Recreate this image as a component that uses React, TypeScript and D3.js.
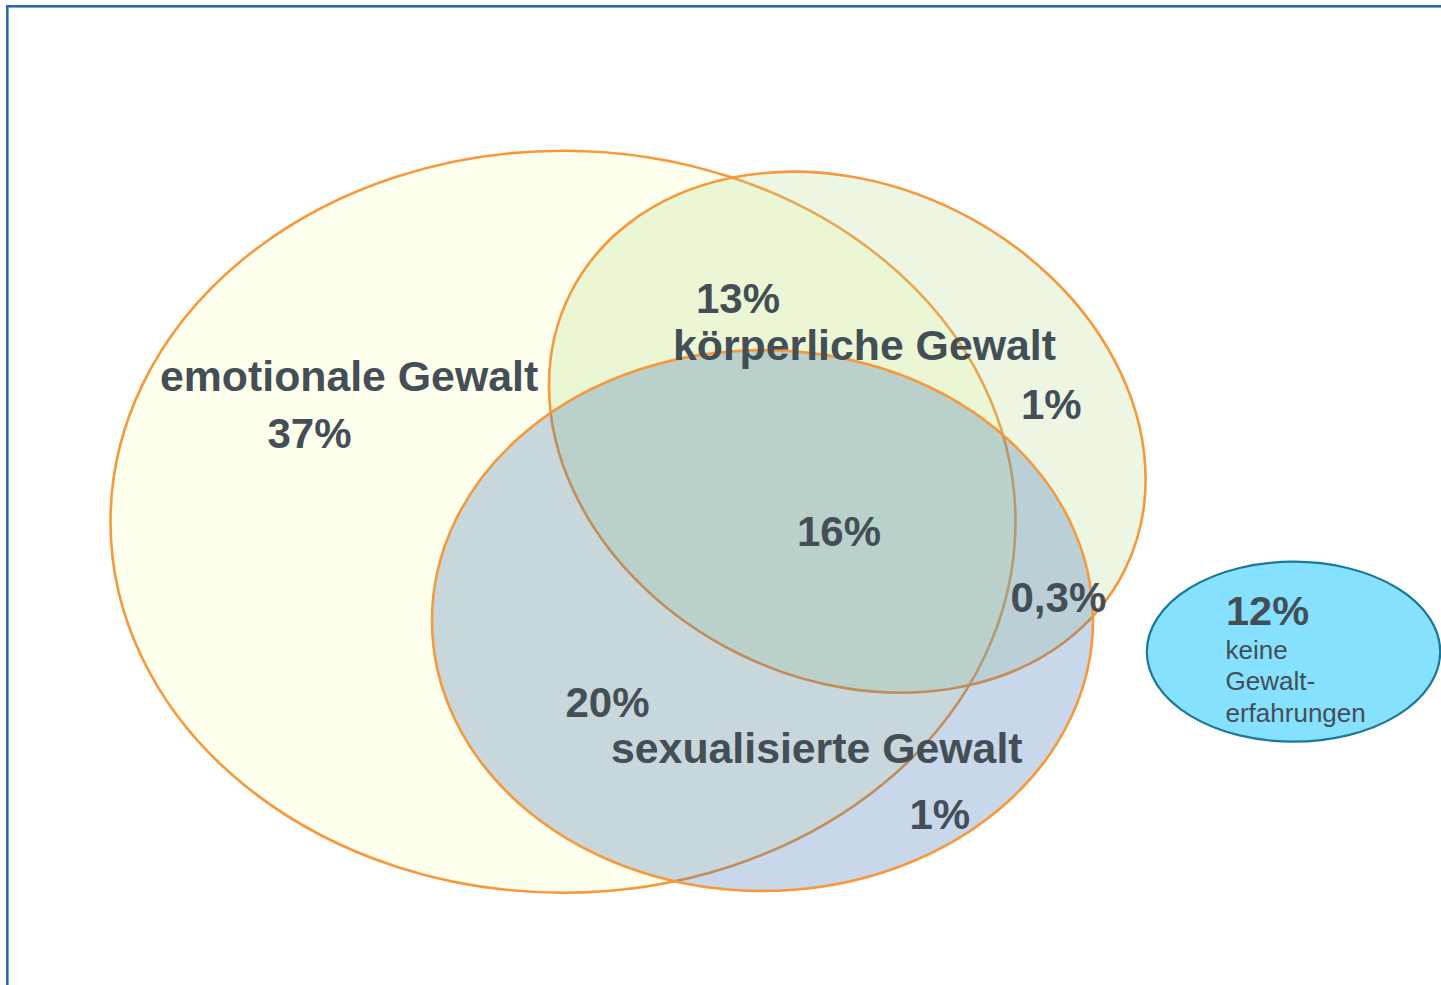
import React, { useEffect, useRef } from "react";
import * as d3 from "d3";

// ---- data ----
const setNames = ["emotionale Gewalt", "körperliche Gewalt", "sexualisierte Gewalt"];
const regionKeys = ["E", "EK", "K", "EKS", "KS", "ES", "S"];
const regionValues = ["37%", "13%", "1%", "16%", "0,3%", "20%", "1%"];
const noneValue = "12%";
const noneLines = ["keine", "Gewalt-", "erfahrungen"];

// ---- layout ----
const W = 1441;
const H = 985;
const ellipses = [
  { cx: 563, cy: 521.7, rx: 452.5, ry: 371, rot: 0, fill: "rgb(254,255,236)", op: 1 },
  { cx: 847.3, cy: 432.2, rx: 309.8, ry: 246.7, rot: 26.5, fill: "rgb(182,220,147)", op: 0.26 },
  { cx: 762.5, cy: 620.5, rx: 330.5, ry: 270.4, rot: 0, fill: "rgb(58,112,180)", op: 0.28 },
];
const setLabelPos = [
  { x: 160, y: 391 },
  { x: 673, y: 360 },
  { x: 611, y: 763 },
];
const regionPos: Record<string, { x: number; y: number }> = {
  E: { x: 267.5, y: 448 },
  EK: { x: 696, y: 313 },
  K: { x: 1021, y: 419 },
  EKS: { x: 797, y: 546 },
  KS: { x: 1010.5, y: 611.5 },
  ES: { x: 565.5, y: 717 },
  S: { x: 909.5, y: 829 },
};

const TEXT = "#444e57";
const ORANGE = "#f7983a";

export default function App() {
  const ref = useRef<SVGSVGElement | null>(null);

  useEffect(() => {
    const svg = d3.select(ref.current);
    svg.selectAll("*").remove();

    svg
      .append("rect")
      .attr("x", 0)
      .attr("y", 0)
      .attr("width", W)
      .attr("height", H)
      .attr("fill", "#ffffff");

    // frame
    svg
      .append("rect")
      .attr("x", 7.3)
      .attr("y", 6.3)
      .attr("width", 1600)
      .attr("height", 1200)
      .attr("fill", "none")
      .attr("stroke", "#2a68b1")
      .attr("stroke-width", 2.6);

    const g = svg.append("g");
    g.selectAll("ellipse.set")
      .data(ellipses)
      .join("ellipse")
      .attr("class", "set")
      .attr("cx", (d) => d.cx)
      .attr("cy", (d) => d.cy)
      .attr("rx", (d) => d.rx)
      .attr("ry", (d) => d.ry)
      .attr("transform", (d) => `rotate(${d.rot},${d.cx},${d.cy})`)
      .attr("fill", (d) => d.fill)
      .attr("fill-opacity", (d) => d.op)
      .attr("stroke", ORANGE)
      .attr("stroke-width", 2.6);

    // "none" ellipse
    svg
      .append("ellipse")
      .attr("cx", 1293.5)
      .attr("cy", 651.7)
      .attr("rx", 146.7)
      .attr("ry", 90)
      .attr("fill", "#86e1fe")
      .attr("stroke", "#1a7898")
      .attr("stroke-width", 2.2);

    const font = "'Liberation Sans', Arial, sans-serif";
    const t = svg.append("g").attr("font-family", font).attr("fill", TEXT);

    t.selectAll("text.set")
      .data(setNames)
      .join("text")
      .attr("class", "set")
      .attr("x", (_d, i) => setLabelPos[i].x)
      .attr("y", (_d, i) => setLabelPos[i].y)
      .attr("font-size", 42.8)
      .attr("font-weight", "bold")
      .text((d) => d);

    t.selectAll("text.val")
      .data(regionKeys)
      .join("text")
      .attr("class", "val")
      .attr("x", (k) => regionPos[k].x)
      .attr("y", (k) => regionPos[k].y)
      .attr("font-size", 42)
      .attr("font-weight", "bold")
      .text((_k, i) => regionValues[i]);

    t.append("text")
      .attr("x", 1226)
      .attr("y", 625)
      .attr("font-size", 41.5)
      .attr("font-weight", "bold")
      .text(noneValue);

    t.selectAll("text.none")
      .data(noneLines)
      .join("text")
      .attr("class", "none")
      .attr("x", 1225.5)
      .attr("y", (_d, i) => 659 + i * 31.4)
      .attr("font-size", 26)
      .text((d) => d);
  }, []);

  return (
    <div style={{ position: "absolute", left: 0, top: 0, width: W, height: H, overflow: "hidden" }}>
      <svg ref={ref} width={W} height={H} style={{ display: "block" }} />
    </div>
  );
}
